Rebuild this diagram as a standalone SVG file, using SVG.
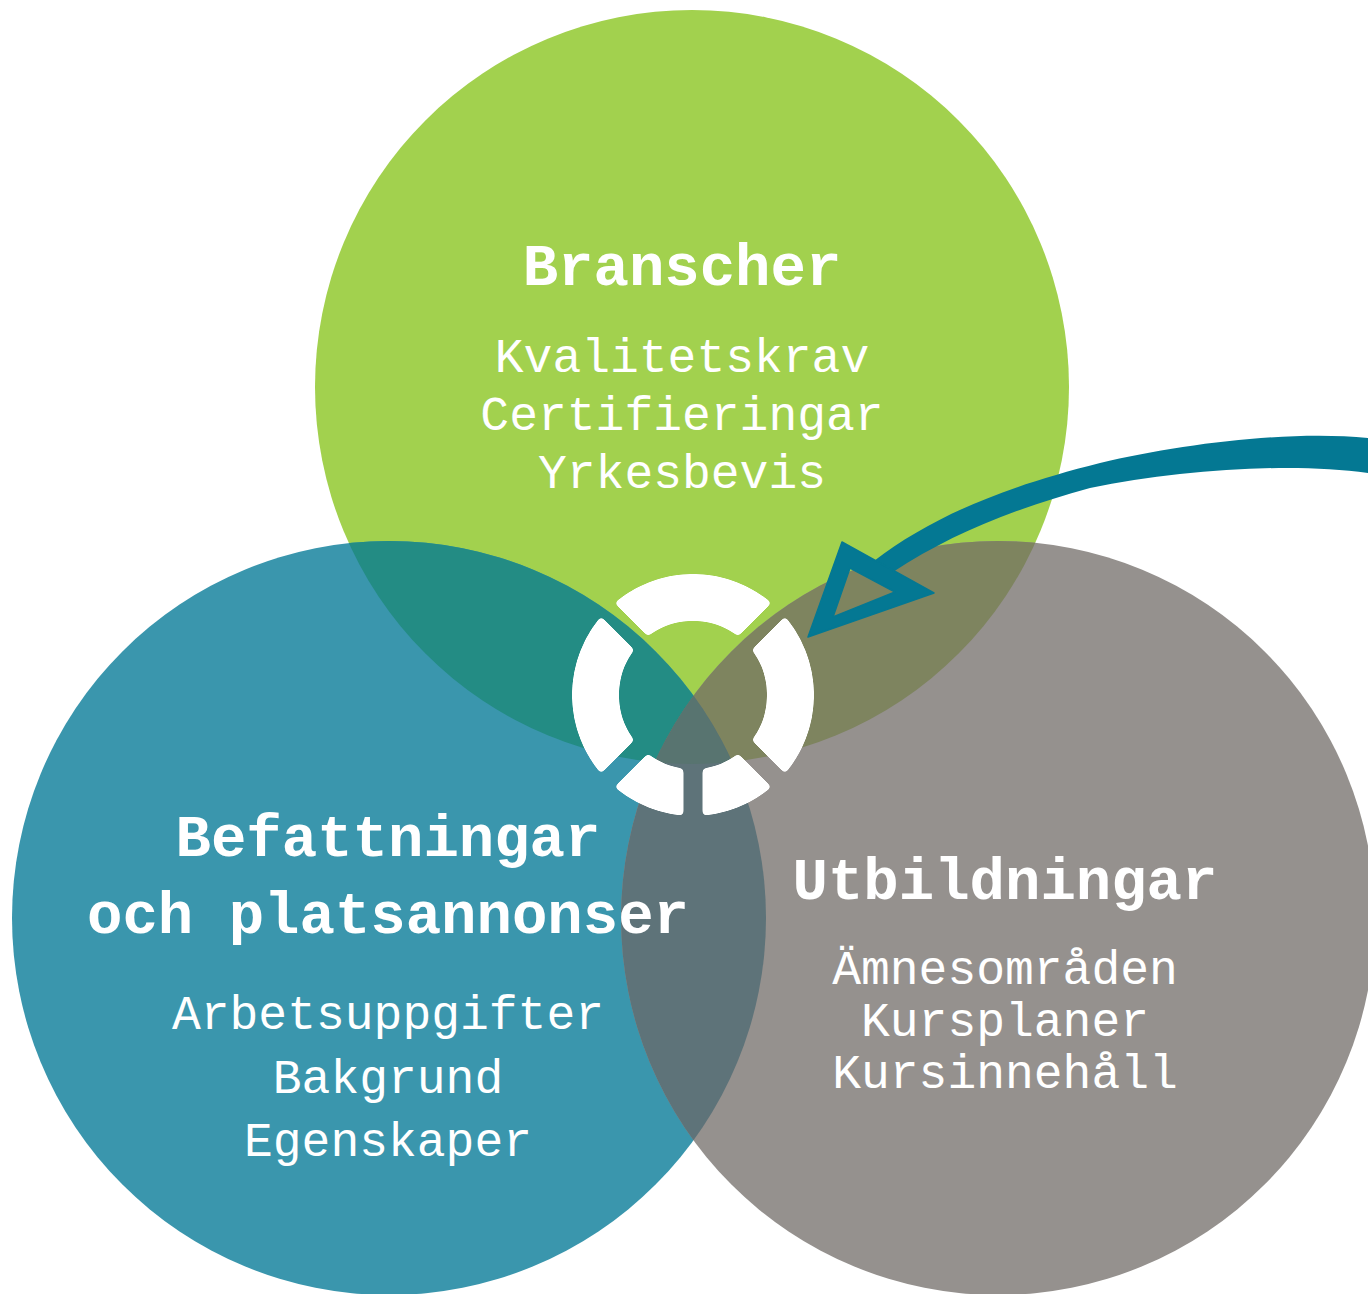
<svg xmlns="http://www.w3.org/2000/svg" width="1368" height="1294" viewBox="0 0 1368 1294">
<style>
.t{font-family:"Liberation Mono","Courier New",monospace;fill:#ffffff;text-anchor:middle}
.h{font-size:59px;font-weight:bold}
.s{font-size:48px}
</style>
<defs>
<clipPath id="cGreen"><circle cx="692" cy="387" r="377"/></clipPath>
<clipPath id="cBlue"><circle cx="389" cy="918" r="377"/></clipPath>
<clipPath id="cGray"><circle cx="998" cy="918" r="377"/></clipPath>
<mask id="ringMask" maskUnits="userSpaceOnUse" x="500" y="500" width="400" height="400">
<rect x="500" y="500" width="400" height="400" fill="#fff"/>
<g stroke="#000" stroke-width="19">
<line x1="553" y1="555" x2="833" y2="835"/>
<line x1="833" y1="555" x2="553" y2="835"/>
<line x1="693" y1="695" x2="693" y2="860"/>
</g>
</mask>
<filter id="roundCorners" x="540" y="540" width="310" height="310" filterUnits="userSpaceOnUse">
<feGaussianBlur in="SourceAlpha" stdDeviation="2.2" result="b"/>
<feComponentTransfer in="b" result="a"><feFuncA type="linear" slope="8" intercept="-3.5"/></feComponentTransfer>
<feFlood flood-color="#ffffff"/>
<feComposite in2="a" operator="in"/>
</filter>
</defs>
<rect width="1368" height="1294" fill="#ffffff"/>
<g id="circle-branscher">
<circle cx="692" cy="387" r="377" fill="#a2d14e"/>
</g>
<g id="circle-befattningar">
<circle cx="389" cy="918" r="377" fill="#3a96ad"/>
</g>
<g id="circle-utbildningar">
<circle cx="998" cy="918" r="377" fill="#95918e"/>
</g>
<g id="overlaps">
<g clip-path="url(#cGreen)"><circle cx="389" cy="918" r="377" fill="#238c84"/></g>
<g clip-path="url(#cGreen)"><circle cx="998" cy="918" r="377" fill="#7e845f"/></g>
<g clip-path="url(#cBlue)"><circle cx="998" cy="918" r="377" fill="#5e7379"/></g>
<g clip-path="url(#cGreen)"><g clip-path="url(#cBlue)"><circle cx="998" cy="918" r="377" fill="#587470"/></g></g>
</g>
<g id="logo" filter="url(#roundCorners)">
<circle cx="693" cy="695" r="97.5" fill="none" stroke="#ffffff" stroke-width="47" mask="url(#ringMask)"/>
</g>
<g id="label-branscher">
<text class="t h" x="682" y="285">Branscher</text>
<text class="t s" x="682" y="372">Kvalitetskrav</text>
<text class="t s" x="682" y="430">Certifieringar</text>
<text class="t s" x="682" y="488">Yrkesbevis</text>
</g>
<g id="label-befattningar">
<text class="t h" x="388" y="856">Befattningar</text>
<text class="t h" x="388" y="933">och platsannonser</text>
<text class="t s" x="388" y="1029">Arbetsuppgifter</text>
<text class="t s" x="388" y="1093">Bakgrund</text>
<text class="t s" x="388" y="1156">Egenskaper</text>
</g>
<g id="label-utbildningar">
<text class="t h" x="1005" y="899">Utbildningar</text>
<text class="t s" x="1005" y="984">Ämnesområden</text>
<text class="t s" x="1005" y="1036">Kursplaner</text>
<text class="t s" x="1005" y="1088">Kursinnehåll</text>
</g>
<g id="connectors">
<path d="M1368,438 C1290,430 1180,444 1100,463 C1000,488 930,518 874,561 L893,572 C950,535 1010,510 1090,488 C1180,470 1290,462 1368,473 Z" fill="#047893"/>
<path d="M808,637 L842,542 L934,593 Z M833,617 L895,592 L850,568 Z" fill="#047893" fill-rule="evenodd" stroke="#047893" stroke-width="1.5" stroke-linejoin="round"/>
</g>
</svg>
